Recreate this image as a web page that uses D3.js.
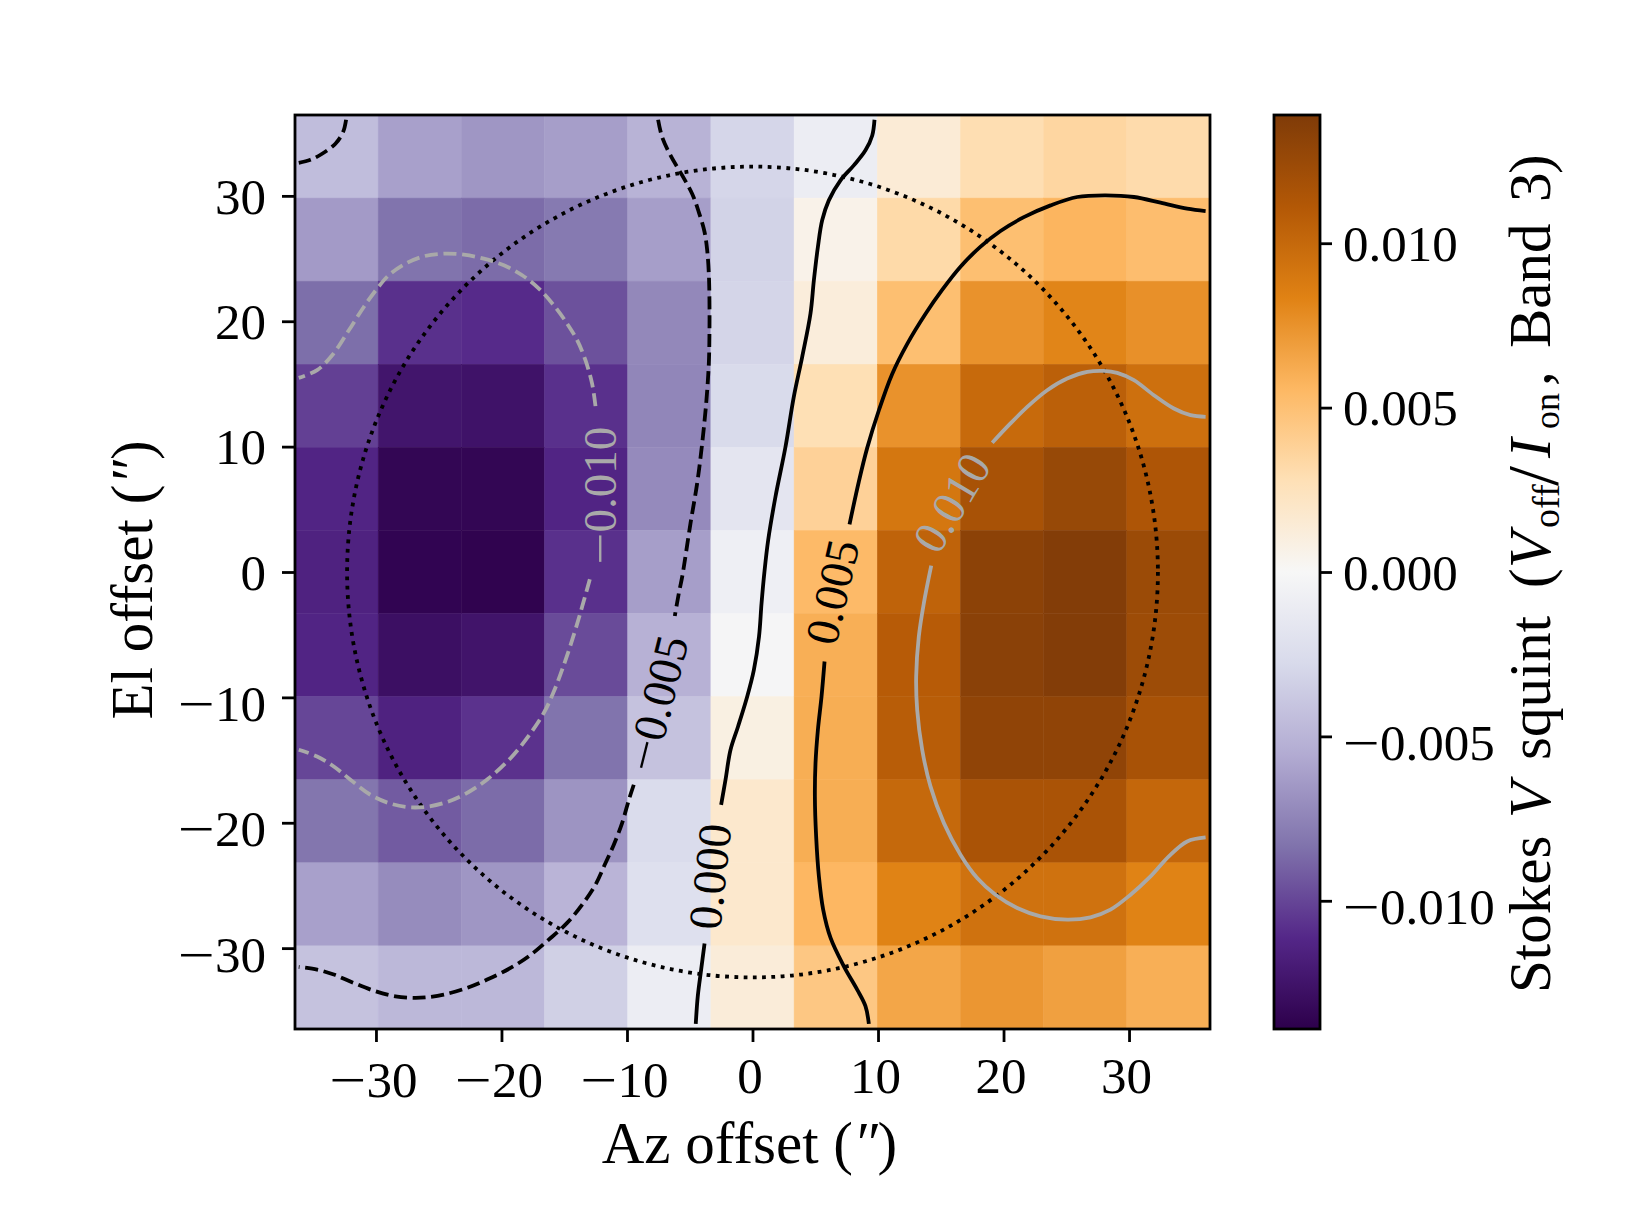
<!DOCTYPE html>
<html>
<head>
<meta charset="utf-8">
<script src="https://cdn.jsdelivr.net/npm/d3@7"></script>
<style>
  html, body { margin: 0; padding: 0; background: #fff; }
  text { font-family: "Liberation Serif", serif; fill: #000; }
</style>
</head>
<body>
<div id="squint_chart"></div>
<script>
//DATA (rows run from top to bottom, columns from left to right)
var row0 = [-0.0045, -0.0061, -0.0066, -0.0062, -0.0051, -0.0030, -0.0010, 0.0014, 0.0029, 0.0035, 0.0031];
var row1 = [-0.0064, -0.0083, -0.0086, -0.0080, -0.0062, -0.0032, 0.0006, 0.0032, 0.0051, 0.0057, 0.0052];
var row2 = [-0.0085, -0.0108, -0.0110, -0.0096, -0.0073, -0.0031, 0.0012, 0.0051, 0.0075, 0.0082, 0.0076];
var row3 = [-0.0102, -0.0124, -0.0126, -0.0108, -0.0074, -0.0027, 0.0028, 0.0075, 0.0099, 0.0106, 0.0095];
var row4 = [-0.0113, -0.0135, -0.0135, -0.0113, -0.0072, -0.0017, 0.0038, 0.0091, 0.0117, 0.0126, 0.0114];
var row5 = [-0.0115, -0.0136, -0.0137, -0.0108, -0.0062, -0.0008, 0.0054, 0.0104, 0.0132, 0.0137, 0.0124];
var row6 = [-0.0113, -0.0128, -0.0125, -0.0098, -0.0052, -0.0002, 0.0060, 0.0109, 0.0133, 0.0137, 0.0123];
var row7 = [-0.0100, -0.0115, -0.0107, -0.0083, -0.0042, 0.0009, 0.0061, 0.0108, 0.0130, 0.0130, 0.0117];
var row8 = [-0.0082, -0.0092, -0.0086, -0.0067, -0.0026, 0.0018, 0.0061, 0.0100, 0.0116, 0.0116, 0.0101];
var row9 = [-0.0061, -0.0071, -0.0066, -0.0050, -0.0022, 0.0018, 0.0056, 0.0083, 0.0094, 0.0094, 0.0083];
var row10 = [-0.0042, -0.0048, -0.0048, -0.0034, -0.0010, 0.0013, 0.0045, 0.0065, 0.0073, 0.0068, 0.0060];
var rows = [row0, row1, row2, row3, row4, row5, row6, row7, row8, row9, row10];

var offsetTicks = [-30, -20, -10, 0, 10, 20, 30];
var colorTicks = [-0.010, -0.005, 0, 0.005, 0.010];
var offsetExtent = [-36.45, 36.45];
var colorExtent = [-0.0139, 0.0139];
var beamRadius = 32.3;

//CONTOURS AS [az, el] PAIRS, BROKEN WHERE THE INLINE LABELS SIT
var minus005Corner = [[-32.38,36.07],[-32.62,35.09],[-33.23,34.16],[-34.29,33.36],[-35.22,32.88],[-36.15,32.64]];
var minus005Upper = [[-7.52,36.07],[-7.20,34.69],[-6.53,33.23],[-5.60,31.63],[-4.81,30.17],[-4.28,28.71],[-3.82,27.12],[-3.61,25.66],[-3.48,23.80],[-3.43,21.67],[-3.43,19.02],[-3.48,16.63],[-3.67,13.70],[-4.01,10.25],[-4.41,7.07],[-4.94,3.88],[-5.60,-0.37],[-5.87,-1.70],[-6.19,-3.51]];
var minus005Lower = [[-9.46,-16.97],[-9.85,-18.17],[-10.39,-20.03],[-11.05,-21.75],[-11.71,-23.21],[-12.51,-24.94],[-13.57,-26.53],[-14.77,-27.99],[-16.23,-29.32],[-17.82,-30.65],[-19.28,-31.58],[-21.14,-32.51],[-22.74,-33.17],[-24.60,-33.71],[-25.92,-33.92],[-26.99,-33.97],[-28.45,-33.84],[-30.04,-33.44],[-31.77,-32.78],[-33.36,-32.11],[-34.69,-31.71],[-36.15,-31.50]];
var minus010Upper = [[-12.51,13.23],[-12.78,15.03],[-13.31,16.89],[-13.97,18.49],[-14.77,19.81],[-15.83,21.27],[-17.02,22.60],[-18.35,23.67],[-19.81,24.46],[-21.41,24.99],[-23.00,25.31],[-24.60,25.39],[-26.19,25.18],[-27.65,24.59],[-28.98,23.67],[-29.91,22.60],[-30.97,21.14],[-32.16,19.28],[-33.49,17.29],[-34.69,16.10],[-36.15,15.48]];
var minus010Lower = [[-12.96,-0.58],[-13.57,-2.76],[-14.24,-5.02],[-15.03,-7.41],[-15.83,-9.54],[-16.63,-11.25],[-17.82,-13.05],[-19.28,-14.85],[-21.14,-16.55],[-23.00,-17.77],[-24.60,-18.43],[-26.19,-18.75],[-27.52,-18.75],[-28.98,-18.43],[-30.44,-17.77],[-32.03,-16.57],[-33.36,-15.51],[-34.69,-14.71],[-36.15,-14.18]];
var zeroUpper = [[9.72,36.07],[9.54,34.82],[9.00,33.63],[8.07,32.43],[7.01,31.24],[6.08,29.64],[5.55,28.05],[5.21,25.92],[4.89,23.27],[4.62,20.61],[3.96,17.16],[3.29,13.97],[2.63,9.99],[1.83,6.00],[1.25,2.55],[0.95,0.00],[0.72,-2.50],[0.52,-5.15],[0.11,-7.81],[-0.42,-9.93],[-1.15,-12.32],[-1.75,-14.18],[-2.15,-16.57],[-2.50,-18.57]];
var zeroLower = [[-3.82,-29.64],[-4.09,-31.71],[-4.36,-33.84],[-4.52,-36.04]];
var plus005Upper = [[36.10,28.79],[34.63,28.98],[32.51,29.46],[30.39,29.91],[28.13,30.04],[25.87,29.91],[23.75,29.24],[21.62,28.30],[19.76,27.20],[18.17,25.95],[16.57,24.35],[15.11,22.50],[13.79,20.60],[12.33,18.20],[11.13,15.80],[10.07,12.90],[9.14,9.90],[8.47,7.20],[7.73,3.80]];
var plus005Lower = [[5.74,-7.14],[5.50,-9.93],[5.21,-12.59],[5.02,-15.25],[4.97,-17.90],[5.07,-21.09],[5.29,-24.28],[5.63,-26.93],[6.22,-29.19],[7.28,-31.45],[8.34,-33.31],[9.00,-34.63],[9.27,-36.04]];
var plus010Upper = [[36.10,12.38],[34.90,12.51],[33.57,13.04],[31.98,14.10],[30.39,15.30],[29.06,15.88],[28.00,16.04],[26.67,15.96],[25.07,15.43],[23.48,14.50],[21.89,13.17],[20.42,11.71],[19.10,10.31]];
var plus010Lower = [[14.24,0.50],[13.65,-2.50],[13.25,-5.15],[13.04,-8.34],[13.12,-11.00],[13.52,-14.18],[14.18,-17.10],[15.25,-20.03],[16.57,-22.55],[17.90,-24.41],[19.36,-25.74],[21.09,-26.80],[22.95,-27.46],[25.07,-27.73],[26.93,-27.54],[28.52,-26.93],[30.12,-25.74],[31.71,-24.28],[33.17,-22.68],[34.63,-21.49],[36.10,-21.17]];

var contourSets = [
  {points: minus005Corner, level: -0.005},
  {points: minus005Upper, level: -0.005},
  {points: minus005Lower, level: -0.005},
  {points: minus010Upper, level: -0.010},
  {points: minus010Lower, level: -0.010},
  {points: zeroUpper, level: 0},
  {points: zeroLower, level: 0},
  {points: plus005Upper, level: 0.005},
  {points: plus005Lower, level: 0.005},
  {points: plus010Upper, level: 0.010},
  {points: plus010Lower, level: 0.010}
];

//INLINE LABELS: LEVEL, AZ, EL, ANGLE
var contourLabels = [
  [-0.010, -12.1, 6.1, -90],
  [-0.005, -7.6, -10.5, -76],
  [0, -3.35, -24.3, -84],
  [0.005, 6.4, -1.6, -77],
  [0.010, 15.9, 5.5, -59]
];

//LAYOUT OF THE SVG
var figWidth = 1635, figHeight = 1217;
var plot = {left: 295, right: 1210, top: 115, bottom: 1029};
var bar = {left: 1274, right: 1320};

var svg = d3.select("#squint_chart").append("svg")
  .attr("width", figWidth)
  .attr("height", figHeight)
  .attr("viewBox", "0 0 " + figWidth + " " + figHeight)
  .style("display", "block");

//SCALES
var xScale = d3.scaleLinear().domain(offsetExtent).range([plot.left, plot.right]);
var yScale = d3.scaleLinear().domain(offsetExtent).range([plot.bottom, plot.top]);
var colBand = d3.scaleBand().domain(d3.range(row0.length)).range([plot.left, plot.right]);
var rowBand = d3.scaleBand().domain(d3.range(rows.length)).range([plot.top, plot.bottom]);

//PuOr_r IS PIECEWISE LINEAR BETWEEN THE 11 BREWER COLOURS, PURPLE AT THE LOW END
var puor = d3.schemePuOr[11];
var colorStops = puor.map(function(c, i) {
  return colorExtent[0] + (colorExtent[1] - colorExtent[0]) * i / (puor.length - 1);
});
var color = d3.scaleLinear().domain(colorStops).range(puor).interpolate(d3.interpolateRgb);
var barScale = d3.scaleLinear().domain(colorExtent).range([plot.bottom, plot.top]);

//HEATMAP CELLS
var cells = [];
rows.forEach(function(r, i) {
  r.forEach(function(v, j) { cells.push({row: i, col: j, value: v}); });
});

svg.append("g").selectAll("rect")
  .data(cells)
  .join("rect")
  .attr("x", function(d) { return colBand(d.col); })
  .attr("y", function(d) { return rowBand(d.row); })
  .attr("width", colBand.bandwidth())
  .attr("height", rowBand.bandwidth())
  .attr("fill", function(d) { return color(d.value); })
  .attr("stroke", function(d) { return color(d.value); })
  .attr("stroke-width", 0.5);

//DOTTED BEAM CIRCLE
svg.append("circle")
  .attr("cx", xScale(0))
  .attr("cy", yScale(0))
  .attr("r", xScale(beamRadius) - xScale(0))
  .attr("fill", "none")
  .attr("stroke", "#000")
  .attr("stroke-width", 3.8)
  .attr("stroke-dasharray", "3.8,5.5");

//CONTOUR LINES
var contourLine = d3.line()
  .x(function(d) { return xScale(d[0]); })
  .y(function(d) { return yScale(d[1]); })
  .curve(d3.curveCatmullRom.alpha(0.5));

function levelColor(level) {
  return Math.abs(level) > 0.007 ? "#a9a9a9" : "#000";
}

//THE COMPUTER MODERN MINUS IS WIDER THAN THE LIBERATION ONE
function stretchMinus(selection, size) {
  selection.each(function() {
    var label = d3.select(this);
    var str = label.text();
    if (str.charAt(0) === "\u2212") {
      label.text(null);
      label.append("tspan")
        .attr("textLength", size)
        .attr("lengthAdjust", "spacingAndGlyphs")
        .text("\u2212");
      label.append("tspan").text(str.slice(1));
    }
  });
}

svg.append("g").selectAll("path")
  .data(contourSets)
  .join("path")
  .attr("d", function(d) { return contourLine(d.points); })
  .attr("fill", "none")
  .attr("stroke", function(d) { return levelColor(d.level); })
  .attr("stroke-width", 3.8)
  .attr("stroke-dasharray", function(d) { return d.level < 0 ? "13,5.7" : null; });

svg.append("g").selectAll("text")
  .data(contourLabels)
  .join("text")
  .attr("transform", function(d) {
    return "translate(" + xScale(d[1]) + "," + yScale(d[2]) + ") rotate(" + d[3] + ")";
  })
  .attr("text-anchor", "middle")
  .attr("dy", "0.33em")
  .style("font-size", "47px")
  .style("fill", function(d) { return levelColor(d[0]); })
  .text(function(d) { return d3.format(".3f")(d[0]); })
  .call(stretchMinus, 32);

//FRAME
svg.append("rect")
  .attr("x", plot.left).attr("y", plot.top)
  .attr("width", plot.right - plot.left).attr("height", plot.bottom - plot.top)
  .attr("fill", "none").attr("stroke", "#000").attr("stroke-width", 2.8);

//AXES
function styleAxis(g) {
  g.select(".domain").remove();
  g.selectAll("line").attr("stroke", "#000").attr("stroke-width", 2.8);
  g.selectAll("text").style("font-size", "51px");
}

svg.append("g")
  .attr("transform", "translate(0," + plot.bottom + ")")
  .call(d3.axisBottom(xScale).tickValues(offsetTicks).tickSize(13).tickPadding(15).tickSizeOuter(0))
  .call(styleAxis)
  .selectAll("text")
  .attr("dx", -3)
  .attr("dy", function(d) { return d < 0 ? "0.79em" : "0.71em"; })
  .call(stretchMinus, 37);

svg.append("g")
  .attr("transform", "translate(" + plot.left + ",0)")
  .call(d3.axisLeft(yScale).tickValues(offsetTicks).tickSize(13).tickPadding(16).tickSizeOuter(0))
  .call(styleAxis)
  .selectAll("text")
  .attr("dy", function(d) { return d < 0 ? "0.45em" : "0.34em"; })
  .call(stretchMinus, 37);

svg.append("text")
  .attr("x", xScale(0) - 3)
  .attr("y", 1163)
  .attr("text-anchor", "middle")
  .style("font-size", "59px")
  .html('Az offset (<tspan font-style="italic">″</tspan>)');

svg.append("text")
  .attr("transform", "translate(152," + (yScale(0) + 8) + ") rotate(-90)")
  .attr("text-anchor", "middle")
  .style("font-size", "59px")
  .html('El offset (<tspan font-style="italic">″</tspan>)');

//COLOURBAR
var gradient = svg.append("defs").append("linearGradient")
  .attr("id", "bar_gradient")
  .attr("x1", "0").attr("y1", "1").attr("x2", "0").attr("y2", "0");

gradient.selectAll("stop")
  .data(puor)
  .join("stop")
  .attr("offset", function(d, i) { return i / (puor.length - 1); })
  .attr("stop-color", function(d) { return d; });

svg.append("rect")
  .attr("x", bar.left).attr("y", plot.top)
  .attr("width", bar.right - bar.left).attr("height", plot.bottom - plot.top)
  .attr("fill", "url(#bar_gradient)")
  .attr("stroke", "#000").attr("stroke-width", 2.8);

svg.append("g")
  .attr("transform", "translate(" + bar.right + ",0)")
  .call(d3.axisRight(barScale).tickValues(colorTicks).tickFormat(d3.format(".3f")).tickSize(12).tickPadding(11).tickSizeOuter(0))
  .call(styleAxis)
  .selectAll("text")
  .attr("dy", function(d) { return d < 0 ? "0.45em" : "0.34em"; })
  .call(stretchMinus, 37);

//COLOURBAR TITLE, EACH PIECE PLACED ALONG THE BAR AS IN THE REFERENCE
var barTitleParts = [
  {text: "Stokes ", at: 0},
  {text: "V ", at: 175, italic: true},
  {text: "squint ", at: 233},
  {text: "(", at: 405},
  {text: "V", at: 425, italic: true},
  {text: "off", at: 465, size: 38, drop: 9},
  {text: "/", at: 507, size: 72, drop: 7},
  {text: "I", at: 535, italic: true},
  {text: "on", at: 564, size: 36, drop: 9},
  {text: ", ", at: 607},
  {text: "Band ", at: 645},
  {text: "3", at: 791},
  {text: ")", at: 819}
];

svg.append("text")
  .attr("transform", "translate(1550,993) rotate(-90)")
  .style("font-size", "59px")
  .selectAll("tspan")
  .data(barTitleParts)
  .join("tspan")
  .attr("x", function(d) { return d.at; })
  .attr("y", function(d) { return d.drop || 0; })
  .attr("font-size", function(d) { return d.size || null; })
  .attr("font-style", function(d) { return d.italic ? "italic" : null; })
  .text(function(d) { return d.text; });
</script>
</body>
</html>
